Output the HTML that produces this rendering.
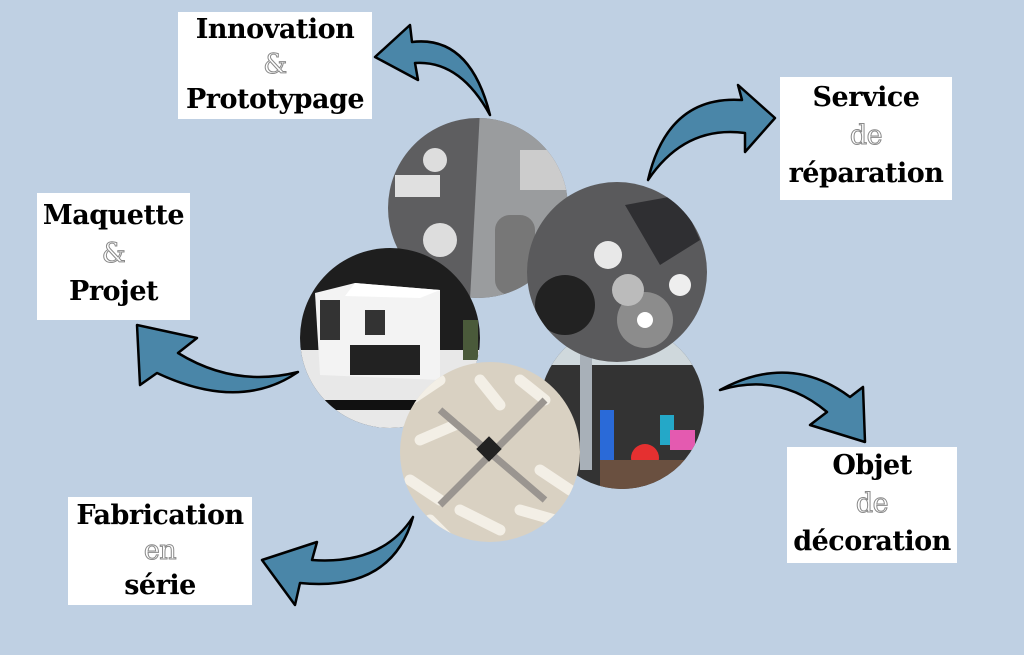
<!DOCTYPE html>
<html><head><meta charset="utf-8"><style>
body{margin:0;width:1024px;height:655px;background:#bfd0e3;position:relative;overflow:hidden;font-family:"DejaVu Serif",serif}
.b{position:absolute;background:#fff;text-align:center;font-weight:bold;font-size:27px;line-height:35px;color:#000;letter-spacing:-0.5px}
.b i{font-style:normal;color:#fff;-webkit-text-stroke:1px #8a8a8a;font-weight:normal}
svg{position:absolute;left:0;top:0}
</style></head><body>
<svg width="1024" height="655">
<defs>
<clipPath id="c1"><circle cx="478" cy="208" r="90"/></clipPath>
<clipPath id="c2"><circle cx="617" cy="272" r="90"/></clipPath>
<clipPath id="c3"><circle cx="390" cy="338" r="90"/></clipPath>
<clipPath id="c4"><circle cx="622" cy="407" r="82"/></clipPath>
<clipPath id="c5"><circle cx="490" cy="452" r="90"/></clipPath>
</defs>
<g clip-path="url(#c1)"><rect x="380" y="110" width="200" height="200" fill="#5e5e60"/><polygon points="480,110 580,110 580,300 470,300" fill="#9a9c9e"/><rect x="520" y="150" width="50" height="40" fill="#ccc"/><rect x="495" y="215" width="40" height="80" fill="#777" rx="15"/><circle cx="440" cy="240" r="17" fill="#ddd"/><rect x="395" y="175" width="45" height="22" fill="#e0e0e0"/><circle cx="435" cy="160" r="12" fill="#ddd"/></g>
<g clip-path="url(#c4)"><rect x="530" y="320" width="190" height="170" fill="#333"/><rect x="530" y="320" width="190" height="45" fill="#cfd8dc"/><rect x="580" y="350" width="12" height="120" fill="#a8b0b8"/><rect x="545" y="395" width="15" height="35" fill="#4be04b"/><rect x="600" y="410" width="14" height="50" fill="#2a6ad8"/><circle cx="645" cy="458" r="14" fill="#e53030"/><rect x="660" y="415" width="14" height="30" fill="#24a8c8"/><rect x="670" y="430" width="25" height="20" fill="#e45ab0"/><rect x="600" y="460" width="110" height="30" fill="#6a5040"/></g>
<g clip-path="url(#c2)"><rect x="520" y="180" width="200" height="190" fill="#5a5a5c"/><polygon points="625,205 680,195 700,240 660,265" fill="#2f2f32"/><circle cx="565" cy="305" r="30" fill="#222"/><circle cx="645" cy="320" r="28" fill="#8c8c8c"/><circle cx="645" cy="320" r="8" fill="#fff"/><circle cx="608" cy="255" r="14" fill="#e8e8e8"/><circle cx="628" cy="290" r="16" fill="#bbb"/><circle cx="680" cy="285" r="11" fill="#eee"/></g>
<g clip-path="url(#c3)"><rect x="295" y="245" width="190" height="190" fill="#1e1e1e"/><rect x="295" y="350" width="190" height="80" fill="#e8e8e8"/><rect x="295" y="400" width="190" height="10" fill="#111"/><polygon points="315,293 355,283 440,290 440,380 320,375" fill="#f3f3f3"/><polygon points="355,283 440,290 420,298 345,296" fill="#fff"/><rect x="320" y="300" width="20" height="40" fill="#333"/><rect x="365" y="310" width="20" height="25" fill="#333"/><rect x="350" y="345" width="70" height="30" fill="#222"/><rect x="463" y="320" width="15" height="40" fill="#4a5a3a"/></g>
<g clip-path="url(#c5)"><rect x="395" y="355" width="190" height="195" fill="#d9d1c2"/><g stroke="#f3efe6" stroke-width="11" stroke-linecap="round"><line x1="410" y1="400" x2="440" y2="380"/><line x1="420" y1="440" x2="455" y2="425"/><line x1="410" y1="480" x2="440" y2="500"/><line x1="520" y1="380" x2="545" y2="400"/><line x1="540" y1="470" x2="570" y2="490"/><line x1="460" y1="510" x2="500" y2="530"/><line x1="520" y1="510" x2="555" y2="520"/><line x1="480" y1="380" x2="500" y2="405"/><line x1="430" y1="520" x2="450" y2="540"/></g><g stroke="#9a9590" stroke-width="7"><line x1="440" y1="410" x2="545" y2="500"/><line x1="545" y1="400" x2="440" y2="505"/></g><rect x="480" y="440" width="18" height="18" fill="#222" transform="rotate(45 489 449)"/></g>
<g fill="#4a86a8" stroke="#000" stroke-width="2.5" stroke-linejoin="round">
<path d="M490,115 Q470,35 412,42 L410,25 L375,57 L418,80 L415,63 Q460,60 490,115 Z"/>
<path d="M648,180 Q668,95 742,100 L738,85 L775,118 L745,152 L745,133 Q685,125 648,180 Z"/>
<path d="M298,372 Q240,412 157,373 L140,385 L137,325 L197,338 L178,353 Q235,388 298,372 Z"/>
<path d="M720,390 Q790,352 850,397 L863,387 L865,442 L810,425 L827,412 Q780,372 720,390 Z"/>
<path d="M413,517 Q392,592 300,583 L295,605 L262,560 L317,542 L312,560 Q382,565 413,517 Z"/>
</g>
</svg>
<div class="b" style="left:178px;top:12px;width:194px;height:107px">Innovation<br><i>&amp;</i><br>Prototypage</div>
<div class="b" style="left:780px;top:77px;width:172px;height:123px;line-height:38px;padding-top:2px;box-sizing:border-box">Service<br><i>de</i><br>réparation</div>
<div class="b" style="left:37px;top:193px;width:153px;height:127px;line-height:38px;padding-top:4px;box-sizing:border-box">Maquette<br><i>&amp;</i><br>Projet</div>
<div class="b" style="left:787px;top:447px;width:170px;height:116px;line-height:38px;box-sizing:border-box">Objet<br><i>de</i><br>décoration</div>
<div class="b" style="left:68px;top:497px;width:184px;height:108px;line-height:35px;padding-top:1px;box-sizing:border-box">Fabrication<br><i>en</i><br>série</div>
</body></html>
